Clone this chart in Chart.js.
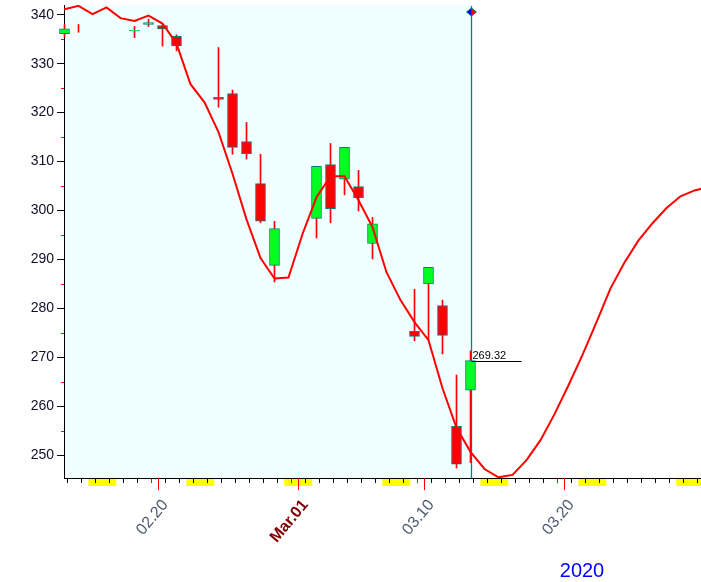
<!DOCTYPE html>
<html>
<head>
<meta charset="utf-8">
<style>
  html, body { margin: 0; padding: 0; background: #fff; }
  #chart { display: block; }
</style>
<script src="https://cdn.jsdelivr.net/npm/chart.js@4.4.1/dist/chart.umd.min.js"></script>
</head>
<body>
<canvas id="chart" width="701" height="582"></canvas>
<script>
  // daily candles (trading days only)
  const candleDates = ["2020-02-13", "2020-02-14", "2020-02-18", "2020-02-19", "2020-02-20", "2020-02-21",
    "2020-02-24", "2020-02-25", "2020-02-26", "2020-02-27", "2020-02-28",
    "2020-03-02", "2020-03-03", "2020-03-04", "2020-03-05", "2020-03-06",
    "2020-03-09", "2020-03-10", "2020-03-11", "2020-03-12", "2020-03-13"];
  const opens  = [336.1, 337.5, 336.7, 338.0, 337.8, 335.6, 323.1, 323.9, 314.1, 305.5, 288.8, 298.4, 309.4, 306.4, 304.9, 293.3, 275.3, 285.0, 280.6, 255.9, 263.3];
  const highs  = [338.0, 338.0, 337.6, 339.1, 338.0, 335.9, 333.3, 324.6, 318.0, 311.5, 297.8, 309.0, 313.7, 312.9, 308.2, 298.6, 283.9, 288.4, 281.7, 266.4, 271.3];
  const lows   = [335.4, 336.4, 335.3, 337.6, 333.6, 332.6, 321.1, 311.5, 310.5, 297.5, 285.4, 294.4, 297.5, 303.2, 299.9, 290.1, 273.4, 273.6, 270.7, 247.4, 248.5];
  const closes = [337.1, 337.5, 336.8, 338.4, 337.1, 333.6, 322.7, 312.9, 311.6, 297.8, 296.3, 309.0, 300.4, 312.9, 302.6, 297.3, 274.3, 288.4, 274.5, 248.2, 269.32];

  // red projection curve, one value per calendar day from curveStart
  const curveStart = "2020-02-12";
  const curveValues = [340.5, 341.1, 341.8, 340.1, 341.5, 339.3, 338.7, 339.8, 338.2, 334.1,
    325.8, 322.1, 316.0, 307.5, 298.2, 290.3, 286.1, 286.3, 295.2, 302.7,
    307.0, 307.0, 302.1, 296.6, 287.4, 281.7, 277.2, 273.5, 263.7, 255.6,
    250.7, 247.2, 245.5, 246.0, 249.0, 253.1, 258.4, 264.3, 270.5, 277.2,
    284.1, 289.4, 293.9, 297.4, 300.5, 302.9, 304.1, 304.8];

  const yTicks = [250, 260, 270, 280, 290, 300, 310, 320, 330, 340];
  const xTickDates = ["2020-02-20", "2020-03-01", "2020-03-10", "2020-03-20"];
  const xTickLabels = ["02.20", "Mar.01", "03.10", "03.20"];
  const yearLabel = "2020";

  const DAY = 86400000;
  const origin = Date.parse(curveStart);
  const dayOf = s => (Date.parse(s) - origin) / DAY;
  const SHIFT = 0.3; // candles sit a little after the day start

  const xMin = 1.264, xMax = 46.764;
  const yMin = 245.36, yMax = 341.98;

  const labelAt = {};
  xTickDates.forEach((d, i) => labelAt[dayOf(d)] = xTickLabels[i]);
  const isMonth = c => (labelAt[c.tick && c.tick.value] || "").startsWith("Mar");

  const wickData = candleDates.map((d, i) => ({ x: dayOf(d) + SHIFT, y: [lows[i], highs[i]] }));
  const bodyData = candleDates.map((d, i) => ({ x: dayOf(d) + SHIFT, y: [opens[i], closes[i]] }));
  const bodyColors = candleDates.map((d, i) => closes[i] >= opens[i] ? "#00ff1e" : "#ff0000");
  const curveData = curveValues.map((v, i) => ({ x: i + SHIFT, y: v }));

  const lastIdx = candleDates.length - 1;
  const lastX = dayOf(candleDates[lastIdx]) + SHIFT;
  const lastClose = closes[lastIdx];

  const decor = {
    id: "decor",
    beforeDraw(chart) {
      const { ctx, chartArea: a, scales: { x } } = chart;
      ctx.save();
      ctx.fillStyle = "#ffffff";
      ctx.fillRect(0, 0, chart.width, chart.height);
      ctx.fillStyle = "#f0ffff";
      ctx.fillRect(a.left, a.top, x.getPixelForValue(lastX) - a.left, a.bottom - a.top);
      // weekend marks under the time axis
      ctx.fillStyle = "#ffff00";
      for (let d = Math.floor(xMin); d <= xMax; d++) {
        const wd = new Date(origin + d * DAY).getUTCDay();
        if (wd !== 6) continue;
        const x0 = Math.max(a.left, x.getPixelForValue(d));
        const x1 = Math.min(a.right, x.getPixelForValue(d + 2));
        ctx.fillRect(x0, a.bottom + 1, x1 - x0, 7);
      }
      ctx.restore();
    },
    beforeDatasetsDraw(chart) {
      const { ctx, chartArea: a, scales: { x } } = chart;
      const px = Math.round(x.getPixelForValue(lastX)) + 0.5;
      ctx.save();
      ctx.strokeStyle = "#008080";
      ctx.lineWidth = 1.3;
      ctx.beginPath();
      ctx.moveTo(px, a.top + 1);
      ctx.lineTo(px, a.bottom);
      ctx.stroke();
      ctx.restore();
    },
    afterDraw(chart) {
      const { ctx, chartArea: a, scales: { x, y } } = chart;
      ctx.save();
      // long red ticks at labelled dates
      ctx.strokeStyle = "#ff0000";
      ctx.lineWidth = 1;
      xTickDates.forEach(d => {
        const px = Math.round(x.getPixelForValue(dayOf(d))) + 0.5;
        ctx.beginPath();
        ctx.moveTo(px, a.bottom);
        ctx.lineTo(px, a.bottom + 12);
        ctx.stroke();
      });
      // minor y ticks
      for (let v = 255; v < yMax; v += 10) {
        const py = Math.round(y.getPixelForValue(v)) + 0.5;
        ctx.beginPath();
        ctx.moveTo(a.left - 3, py);
        ctx.lineTo(a.left, py);
        ctx.stroke();
      }
      // diamond marker on top of the cursor line
      const cx = Math.round(x.getPixelForValue(lastX)) + 0.5, cy = a.top + 7;
      ctx.fillStyle = "#0000ff";
      ctx.beginPath();
      ctx.moveTo(cx, cy - 4); ctx.lineTo(cx - 5, cy); ctx.lineTo(cx, cy + 4); ctx.closePath();
      ctx.fill();
      ctx.fillStyle = "#ff0000";
      ctx.beginPath();
      ctx.moveTo(cx, cy - 4); ctx.lineTo(cx + 5, cy); ctx.lineTo(cx, cy + 4); ctx.closePath();
      ctx.fill();
      ctx.strokeStyle = "#008080";
      ctx.beginPath();
      ctx.moveTo(cx, cy - 4); ctx.lineTo(cx - 5, cy); ctx.lineTo(cx, cy + 4); ctx.lineTo(cx + 5, cy); ctx.closePath();
      ctx.stroke();
      // last price
      const py = Math.round(y.getPixelForValue(lastClose)) + 0.5;
      ctx.strokeStyle = "#000000";
      ctx.beginPath();
      ctx.moveTo(cx, py);
      ctx.lineTo(cx + 50, py);
      ctx.stroke();
      ctx.fillStyle = "#000000";
      ctx.font = "11px 'Liberation Sans', Arial, sans-serif";
      ctx.textBaseline = "alphabetic";
      ctx.fillText(lastClose.toFixed(2), cx + 1, py - 3);
      // year
      ctx.fillStyle = "#0000ff";
      ctx.font = "20px 'Liberation Sans', Arial, sans-serif";
      ctx.textAlign = "center";
      ctx.fillText(yearLabel, 582, 577);
      ctx.restore();
    }
  };

  new Chart(document.getElementById("chart"), {
    type: "bar",
    data: {
      datasets: [
        {
          type: "line",
          data: curveData,
          borderColor: "#ff0000",
          borderWidth: 2,
          pointRadius: 0,
          tension: 0,
          order: 0
        },
        {
          data: bodyData,
          backgroundColor: bodyColors,
          borderColor: "#008080",
          borderWidth: 1,
          borderSkipped: false,
          barThickness: 10,
          grouped: false,
          clip: false,
          order: 1
        },
        {
          data: wickData,
          backgroundColor: "#ff0000",
          barThickness: 1,
          grouped: false,
          clip: false,
          order: 2
        }
      ]
    },
    options: {
      responsive: false,
      animation: false,
      devicePixelRatio: 1,
      layout: { autoPadding: false, padding: { top: 5, right: 0, left: 0, bottom: 0 } },
      plugins: { legend: { display: false }, tooltip: { enabled: false } },
      scales: {
        x: {
          type: "linear",
          min: xMin,
          max: xMax,
          offset: false,
          afterBuildTicks: s => {
            const t = [];
            for (let d = Math.ceil(xMin); d <= xMax; d++) t.push({ value: d });
            s.ticks = t;
          },
          afterFit: s => {
            s.height = 104;
            s.paddingLeft = 0;
            s.paddingRight = 0;
          },
          border: { color: "#000000", width: 1 },
          grid: {
            drawOnChartArea: false,
            tickLength: 5,
            tickColor: c => labelAt[c.tick && c.tick.value] ? "#ff0000" : "#000000"
          },
          ticks: {
            autoSkip: false,
            minRotation: 50,
            maxRotation: 50,
            padding: 13,
            labelOffset: 7,
            callback: v => labelAt[v] || "",
            color: c => isMonth(c) ? "#800000" : "#4b5a6e",
            font: c => ({
              family: "'Liberation Sans', Arial, sans-serif",
              size: 16,
              weight: isMonth(c) ? "bold" : "normal"
            })
          }
        },
        y: {
          min: yMin,
          max: yMax,
          afterBuildTicks: s => { s.ticks = yTicks.map(v => ({ value: v })); },
          afterFit: s => {
            s.width = 64;
            s.paddingTop = 0;
            s.paddingBottom = 0;
          },
          border: { color: "#000000", width: 1 },
          grid: { drawOnChartArea: false, tickLength: 7, tickColor: "#000000" },
          ticks: {
            padding: 3,
            color: "#10102a",
            font: { family: "'Liberation Sans', Arial, sans-serif", size: 14 }
          }
        }
      }
    },
    plugins: [decor]
  });
</script>
</body>
</html>
